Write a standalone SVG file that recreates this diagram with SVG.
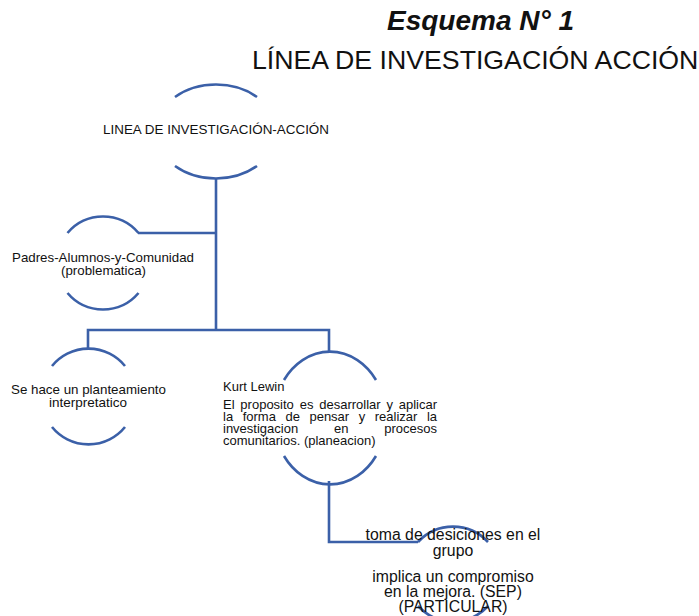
<svg xmlns="http://www.w3.org/2000/svg" width="699" height="616" viewBox="0 0 699 616">
<style>
.ln{fill:none;stroke:#3b60a8;stroke-width:2.6;stroke-linecap:butt}
.t{font-family:"Liberation Sans",Arial,sans-serif;fill:#111}
.s{font-size:13px}
.m{font-size:15.8px}
</style>
<rect width="699" height="616" fill="#fff"/>
<g id="title">
<text class="t" x="387" y="30" font-size="28" font-weight="bold" font-style="italic">Esquema N° 1</text>
<text class="t" x="252" y="69" font-size="26.7">LÍNEA DE INVESTIGACIÓN ACCIÓN</text>
</g>
<g id="connectors">
<path class="ln" d="M216,178 V330"/>
<path class="ln" d="M138,233 H216"/>
<path class="ln" d="M88,350 V330 H329 V351"/>
<path class="ln" d="M329,481 V542 H418"/>
</g>
<g id="n1">
<path class="ln" d="M175,97 A60.4,47 0 0 1 257,97"/>
<path class="ln" d="M175,166 A60.4,47 0 0 0 257,166"/>
<text class="t s" x="103" y="134" textLength="226" lengthAdjust="spacingAndGlyphs">LINEA DE INVESTIGACIÓN-ACCIÓN</text>
</g>
<g id="n2">
<path class="ln" d="M67.5,233 A46.5,46.5 0 0 1 138.5,233"/>
<path class="ln" d="M67.5,293 A46.5,46.5 0 0 0 138.5,293"/>
<text class="t s" x="12" y="262" textLength="182" lengthAdjust="spacingAndGlyphs">Padres-Alumnos-y-Comunidad</text>
<text class="t s" x="61" y="275" textLength="85" lengthAdjust="spacingAndGlyphs">(problematica)</text>
</g>
<g id="n3">
<path class="ln" d="M52,366 A47,47 0 0 1 125,366"/>
<path class="ln" d="M52,427 A47,47 0 0 0 125,427"/>
<text class="t s" x="11" y="394" textLength="155" lengthAdjust="spacingAndGlyphs">Se hace un planteamiento</text>
<text class="t s" x="49" y="407" textLength="78" lengthAdjust="spacingAndGlyphs">interpretatico</text>
</g>
<g id="n4">
<path class="ln" d="M284,380 A56,66 0 0 1 376,380"/>
<path class="ln" d="M284,456 A56,66 0 0 0 376,456"/>
<text class="t s" x="223" y="391">Kurt Lewin</text>
<text class="t s" x="223" y="409" word-spacing="2.2">El proposito es desarrollar y aplicar</text>
<text class="t s" x="223" y="421" word-spacing="5.93">la forma de pensar y realizar la</text>
<text class="t s" x="223" y="433" word-spacing="32.2">investigacion en procesos</text>
<text class="t s" x="223" y="445">comunitarios. (planeacion)</text>
</g>
<g id="n5">
<path class="ln" d="M418,542 A47.5,47.5 0 0 1 488,542"/>
<path class="ln" d="M418,606 A47.5,47.5 0 0 0 488,606"/>
<g class="t m" text-anchor="middle">
<text x="453" y="540">toma de desiciones en el</text>
<text x="453" y="556">grupo</text>
<text x="453" y="582">implica un compromiso</text>
<text x="453" y="597">en la mejora. (SEP)</text>
<text x="453" y="612">(PARTICULAR)</text>
</g>
</g>
</svg>
